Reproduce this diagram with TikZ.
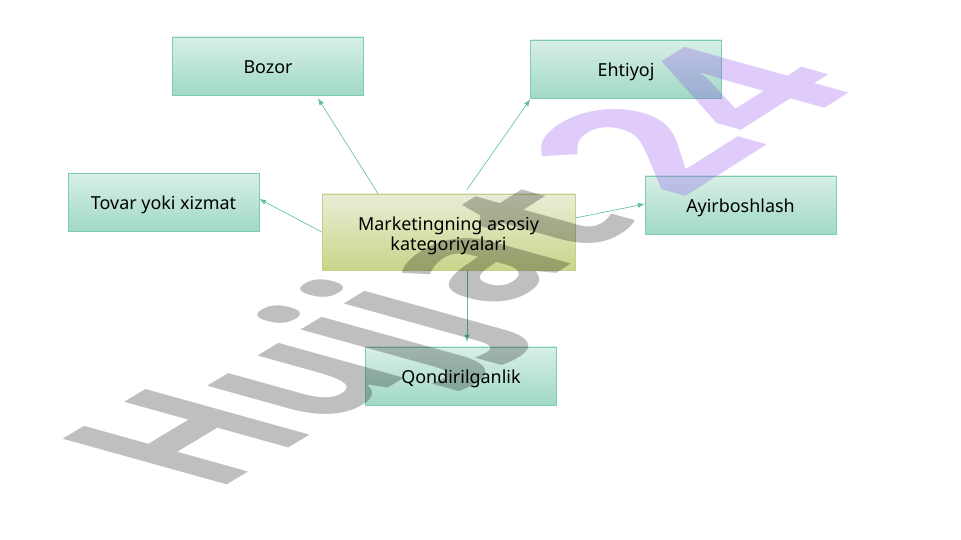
\documentclass[tikz,border=0pt]{standalone}
\usepackage{fontspec}
\setmainfont{Noto Sans}
\newfontfamily\markfont{Open Sans}
\usetikzlibrary{positioning}
\definecolor{boxline}{HTML}{7FCDB0}
\definecolor{boxtop}{HTML}{D8EFE7}
\definecolor{boxbot}{HTML}{A0D9C5}
\definecolor{mainline}{HTML}{C3D08A}
\definecolor{maintop}{HTML}{E9EDD6}
\definecolor{mainbot}{HTML}{C9D58A}
\definecolor{arrowline}{HTML}{5CBFA3}
\definecolor{markviolet}{HTML}{8337ED}
\tikzset{
  catbox/.style={draw=boxline,top color=boxtop,bottom color=boxbot,minimum width=3.82cm,minimum height=1.16cm,inner sep=0pt,text height=8pt,text depth=0pt,font=\fontsize{10.2pt}{12pt}\selectfont,text=black},
  mainbox/.style={draw=mainline,top color=maintop,bottom color=mainbot,minimum width=5.06cm,minimum height=1.52cm,inner sep=0pt,align=center,font=\fontsize{10.2pt}{11.6pt}\selectfont,text=black},
  link/.style={draw=arrowline,line width=0.35pt,-latex},
  marktext/.style={inner sep=0pt,transform shape,anchor=base west,font=\markfont\bfseries\fontsize{100pt}{100pt}\selectfont,text opacity=0.25}
}
\begin{document}
\begin{tikzpicture}
\useasboundingbox (0,0) rectangle (19.22,10.8);
\fill[white] (0,0) rectangle (19.22,10.8);
\node[mainbox] (main) at (8.97,6.16) {\rule{0pt}{12pt}Marketingning asosiy\\kategoriyalari};
\node[catbox] (bozor) at (5.36,9.48) {Bozor};
\node[catbox] (ehtiyoj) at (12.52,9.42) {Ehtiyoj};
\node[catbox] (tovar) at (3.27,6.75) {Tovar yoki xizmat};
\node[catbox] (ayir) at (14.81,6.70) {Ayirboshlash};
\node[catbox] (qond) at (9.22,3.28) {Qondirilganlik};
\draw[link] ([xshift=-1.41cm]main.north) -- ([xshift=1.00cm,yshift=-0.06cm]bozor.south);
\draw[link] ([xshift=0.37cm,yshift=0.08cm]main.north) -- ([yshift=-0.02cm]ehtiyoj.south west);
\draw[link] ([yshift=0cm]main.west) -- ([yshift=0.07cm]tovar.east);
\draw[link] ([yshift=0.28cm]main.east) -- ([yshift=0.02cm]ayir.west);
\draw[link] ([xshift=0.37cm]main.south) -- ([xshift=0.12cm,yshift=0.10cm]qond.north);
% watermark
\begin{scope}[cm={.806,.484,-1.309,.364,(4.28,0.94)}]
\node[marktext,text=black] (mark) at (0,0) {Hujj};
\end{scope}
\begin{scope}[cm={.806,.511,-1.309,.364,(4.28,0.98)}]
\node[marktext,text=black,yscale=.92] (markb) at (7.0,0) {at};
\node[marktext,text=markviolet,xscale=1.15] (num) at (11.42,-0.07) {24};
\end{scope}
\end{tikzpicture}
\end{document}
